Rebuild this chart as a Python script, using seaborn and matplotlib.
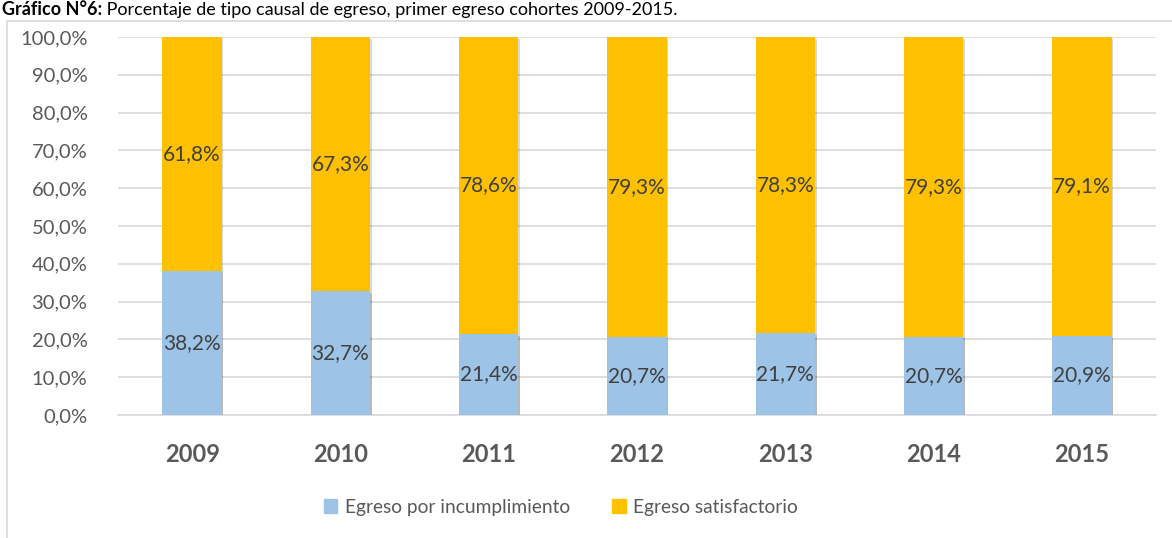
import matplotlib
matplotlib.use("Agg")
import matplotlib.pyplot as plt
import matplotlib.patheffects as pe
from matplotlib.patches import Rectangle
import seaborn as sns
import pandas as pd

years = ["2009", "2010", "2011", "2012", "2013", "2014", "2015"]
incumplimiento = [38.2, 32.7, 21.4, 20.7, 21.7, 20.7, 20.9]
satisfactorio = [61.8, 67.3, 78.6, 79.3, 78.3, 79.3, 79.1]
series_names = ["Egreso por incumplimiento", "Egreso satisfactorio"]
title_bold = "Gráfico N°6:"
title_rest = " Porcentaje de tipo causal de egreso, primer egreso cohortes 2009-2015."

blue = "#9DC3E6"
orange = "#FFC000"
grey = "#595959"

sns.set_theme(style="white")
plt.rcParams["font.family"] = ["Lato", "DejaVu Sans"]

df = pd.DataFrame({"year": years, "inc": incumplimiento, "sat": satisfactorio})
df["total"] = df["inc"] + df["sat"]

fig = plt.figure(figsize=(11.72, 5.38), dpi=100)
ax = fig.add_axes([118/1172, 1-415/538, (1156-118)/1172, (415-37)/538])

shadow = [pe.SimplePatchShadow(offset=(1.2, -1.2), shadow_rgbFace="#000000", alpha=0.15), pe.Normal()]

sns.barplot(data=df, x="year", y="total", color=orange, width=0.4, ax=ax,
            saturation=1, linewidth=0, zorder=2)
sns.barplot(data=df, x="year", y="inc", color=blue, width=0.4, ax=ax,
            saturation=1, linewidth=0, zorder=3)
for p in ax.patches:
    p.set_path_effects(shadow)

for i, (a, b) in enumerate(zip(incumplimiento, satisfactorio)):
    ax.text(i, a/2, f"{a:.1f}%".replace(".", ","), ha="center", va="center",
            fontsize=15, color="#404040", zorder=5)
    ax.text(i, a + b/2, f"{b:.1f}%".replace(".", ","), ha="center", va="center",
            fontsize=15, color="#404040", zorder=5)

ax.set_ylim(0, 100)
ax.set_xlim(-0.5, 6.5)
ax.set_yticks(range(0, 101, 10))
ax.set_yticklabels([f"{v},0%" for v in range(0, 101, 10)], fontsize=14.5, color=grey)
ax.set_xticks(range(len(years)))
ax.set_xticklabels(years, fontsize=17, fontweight="bold", color=grey)
ax.tick_params(axis="x", length=0, pad=20)
ax.tick_params(axis="y", length=0, pad=22)
ax.set_xlabel("")
ax.set_ylabel("")
ax.grid(axis="y", color="#D9D9D9", linewidth=1.2, zorder=0)
ax.set_axisbelow(True)
for s in ["top", "right", "left"]:
    ax.spines[s].set_visible(False)
ax.spines["bottom"].set_color("#D9D9D9")
ax.spines["bottom"].set_linewidth(1.2)

handles = [Rectangle((0, 0), 1, 1, color=blue), Rectangle((0, 0), 1, 1, color=orange)]
leg = fig.legend(handles, series_names, loc="center", bbox_to_anchor=(561/1172, 1-507/538),
                 ncol=2, frameon=False, fontsize=13.8, handlelength=0.7, handleheight=0.7,
                 handletextpad=0.4, columnspacing=2.2)
for t in leg.get_texts():
    t.set_color(grey)

# chart area border
fig.patches.append(Rectangle((7/1172, -0.05), 1.2, 1-21/538+0.05, transform=fig.transFigure,
                             fill=False, edgecolor="#D9D9D9", linewidth=1.2))

# title at the top
t1 = fig.text(2/1172, 1-15/538, title_bold, ha="left", va="baseline", fontsize=13,
              fontweight="bold", color="black")
fig.canvas.draw()
bb = t1.get_window_extent()
fig.text(bb.x1/1172, 1-15/538, title_rest, ha="left", va="baseline", fontsize=13,
         color="black")

fig.savefig("out.png", dpi=100)
